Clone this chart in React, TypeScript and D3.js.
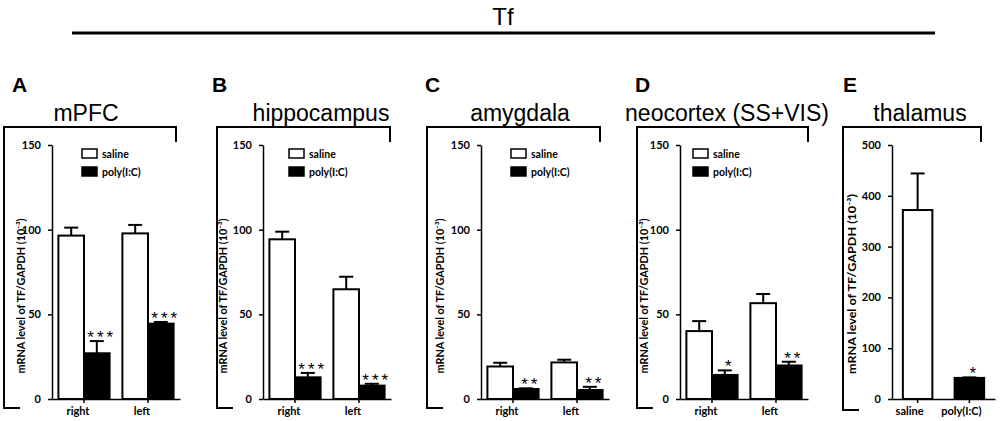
import { useEffect, useRef } from "react"
import * as d3 from "d3"

// figure text
const figureTitle = "Tf"
const panelLetters = ["A", "B", "C", "D", "E"]
const regionNames = ["mPFC", "hippocampus", "amygdala", "neocortex (SS+VIS)", "thalamus"]
const hemispheres = ["right", "left"]
const treatments = ["saline", "poly(I:C)"]
const yLabel = "mRNA level of TF/GAPDH (10\u207B\u00B3)"

// y ticks
const yTicksSmall = [0, 50, 100, 150]
const yTicksThalamus = [0, 100, 200, 300, 400, 500]

// mean and SEM (x10^-3), [right, left], panels A-D
const salineMean = [[96.5, 97.8], [94.3, 64.8], [19.2, 21.6], [40.1, 56.6]]
const salineSem = [[4.7, 5.0], [4.5, 7.4], [2.2, 1.6], [5.9, 5.4]]
const polyMean = [[27.0, 44.5], [12.8, 7.9], [5.9, 5.3], [14.2, 19.8]]
const polySem = [[7.2, 1.0], [2.6, 1.1], [0.4, 1.9], [2.7, 2.2]]
const polyStars = [["***", "***"], ["***", "***"], ["**", "**"], ["*", "**"]]

// panel E: thalamus, [saline, poly(I:C)]
const thalamusMean = [372, 41.5]
const thalamusSem = [72, 1.0]
const thalamusStars = ["", "*"]

// layout (pixels)
const panels = [
  { axisX: 52, bL: 4, bR: 176, letterX: 12, titleX: 86, legendX: 82, yLabX: 22 },
  { axisX: 263, bL: 217, bR: 390, letterX: 212, titleX: 321, legendX: 289, yLabX: 224 },
  { axisX: 481, bL: 427, bR: 600, letterX: 425, titleX: 520, legendX: 511, yLabX: 441 },
  { axisX: 680, bL: 637, bR: 808, letterX: 635, titleX: 727, legendX: 693, yLabX: 645 },
  { axisX: 892, bL: 843, bR: 981, letterX: 843, titleX: 920, legendX: 0, yLabX: 853 },
]

const Y0 = 399
const Y1 = 145
const boldFont = "Lato, 'Open Sans', sans-serif"
const plainFont = "'Liberation Sans', Arial, sans-serif"

export default function App() {
  const svgRef = useRef<SVGSVGElement | null>(null)

  useEffect(() => {
    if (!svgRef.current) return
    const svg = d3.select(svgRef.current)
    svg.selectAll("*").remove()

    // header
    svg.append("text")
      .attr("x", 503).attr("y", 25)
      .attr("text-anchor", "middle")
      .attr("font-family", plainFont)
      .attr("font-size", 24)
      .text(figureTitle)
    svg.append("line")
      .attr("x1", 72).attr("x2", 935)
      .attr("y1", 33).attr("y2", 33)
      .attr("stroke", "#000").attr("stroke-width", 3)

    panels.forEach((p, i) => {
      const isThal = i === 4
      const g = svg.append("g")

      // letter + region title
      g.append("text")
        .attr("x", p.letterX).attr("y", 92)
        .attr("font-family", plainFont).attr("font-weight", "bold")
        .attr("font-size", 21)
        .text(panelLetters[i])
      g.append("text")
        .attr("x", p.titleX).attr("y", 121)
        .attr("text-anchor", "middle")
        .attr("font-family", plainFont).attr("font-size", 23)
        .text(regionNames[i])

      // bracket
      g.append("path")
        .attr("d", `M${p.bR},142V127H${p.bL}V${isThal ? 410 : 408}H${p.bL + 16}`)
        .attr("fill", "none").attr("stroke", "#000").attr("stroke-width", 2)

      const y = d3.scaleLinear()
        .domain([0, isThal ? 500 : 150])
        .range([Y0, Y1])

      const x = isThal
        ? d3.scaleBand<string>().domain(treatments).range([p.axisX, 995]).paddingInner(0.43).paddingOuter(0.21)
        : d3.scaleBand<string>().domain(hemispheres).range([p.axisX, p.axisX + 128]).paddingInner(0.2).paddingOuter(0.1)

      // bars
      type Bar = { x: number; w: number; mean: number; sem: number; fill: string; stars: string }
      const bars: Bar[] = []
      if (isThal) {
        treatments.forEach((t, k) => {
          bars.push({
            x: x(t) ?? 0, w: x.bandwidth(),
            mean: thalamusMean[k], sem: thalamusSem[k],
            fill: k === 0 ? "#fff" : "#000", stars: thalamusStars[k],
          })
        })
      } else {
        const sub = d3.scaleBand<string>().domain(treatments).range([0, x.bandwidth()])
        hemispheres.forEach((h, k) => {
          bars.push({
            x: (x(h) ?? 0) + (sub("saline") ?? 0), w: sub.bandwidth(),
            mean: salineMean[i][k], sem: salineSem[i][k], fill: "#fff", stars: "",
          })
          bars.push({
            x: (x(h) ?? 0) + (sub("poly(I:C)") ?? 0), w: sub.bandwidth(),
            mean: polyMean[i][k], sem: polySem[i][k], fill: "#000", stars: polyStars[i][k],
          })
        })
      }

      bars.forEach(b => {
        const cx = b.x + b.w / 2
        const top = y(b.mean + b.sem)
        g.append("line")
          .attr("x1", cx).attr("x2", cx)
          .attr("y1", y(b.mean)).attr("y2", top)
          .attr("stroke", "#000").attr("stroke-width", 2)
        g.append("line")
          .attr("x1", cx - 7).attr("x2", cx + 7)
          .attr("y1", top).attr("y2", top)
          .attr("stroke", "#000").attr("stroke-width", 2)
        g.append("rect")
          .attr("x", b.x).attr("width", b.w)
          .attr("y", y(b.mean)).attr("height", Y0 - y(b.mean))
          .attr("fill", b.fill).attr("stroke", "#000").attr("stroke-width", 2)
        if (b.stars) {
          g.append("text")
            .attr("x", cx + 5).attr("y", top + 2)
            .attr("text-anchor", "middle")
            .attr("font-family", plainFont).attr("font-size", 17)
            .attr("letter-spacing", 3)
            .attr("fill", "#000")
            .text(b.stars)
        }
      })

      // y axis
      const yAxis = g.append("g")
        .attr("transform", `translate(${p.axisX},0)`)
        .call(d3.axisLeft(y).tickValues(isThal ? yTicksThalamus : yTicksSmall).tickSize(4).tickSizeOuter(0).tickPadding(7))
      yAxis.select(".domain").attr("stroke-width", 1.5)
      yAxis.selectAll(".tick line").attr("stroke-width", 1.5)
      yAxis.selectAll(".tick text")
        .attr("font-family", boldFont).attr("font-weight", "bold")
        .attr("font-size", 11).attr("fill", "#000")

      // x axis
      const xAxis = g.append("g")
        .attr("transform", `translate(0,${Y0})`)
        .call(d3.axisBottom(x).tickSize(4).tickSizeOuter(0).tickPadding(4))
      xAxis.select(".domain").attr("stroke-width", 1.5)
      xAxis.selectAll(".tick line").attr("stroke-width", 1.5)
      xAxis.selectAll(".tick text")
        .attr("dx", isThal ? -8 : -6)
        .attr("font-family", boldFont).attr("font-weight", "bold")
        .attr("font-size", 11).attr("fill", "#000")

      // y label
      const cy = isThal ? 284 : 296
      g.append("text")
        .attr("transform", `translate(${p.yLabX + 3},${cy}) rotate(-90)`)
        .attr("text-anchor", "middle")
        .attr("font-family", boldFont).attr("font-weight", "bold")
        .attr("font-size", isThal ? 11.5 : 10.5)
        .attr("textLength", isThal ? 180 : 155)
        .attr("lengthAdjust", "spacingAndGlyphs")
        .text(yLabel)

      // legend
      if (!isThal) {
        treatments.forEach((t, k) => {
          const ly = 149 + k * 18
          g.append("rect")
            .attr("x", p.legendX).attr("y", ly)
            .attr("width", 15).attr("height", 9)
            .attr("fill", k === 0 ? "#fff" : "#000")
            .attr("stroke", "#000").attr("stroke-width", 1.5)
          g.append("text")
            .attr("x", p.legendX + 20).attr("y", ly + 8.5)
            .attr("font-family", boldFont).attr("font-weight", "bold")
            .attr("font-size", 10.5)
            .text(t)
        })
      }
    })
  }, [])

  return (
    <div style={{ position: "absolute", left: 0, top: 0 }}>
      <svg ref={svgRef} width={1000} height={421} style={{ display: "block", background: "#fff" }} />
    </div>
  )
}
